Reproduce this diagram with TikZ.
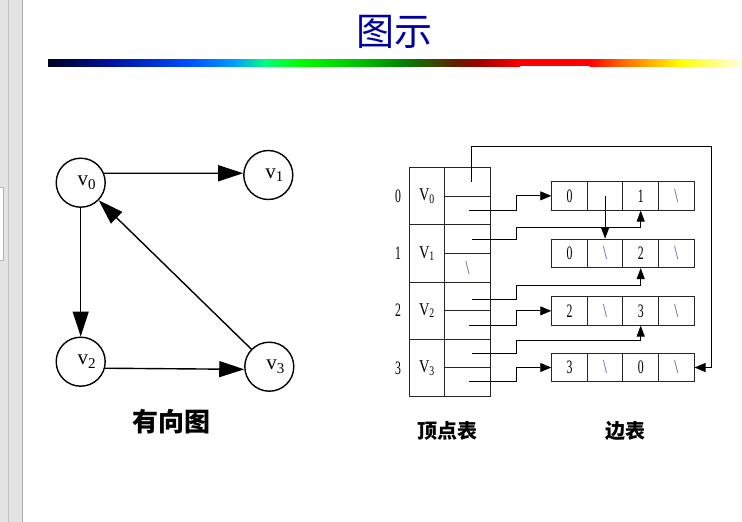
\documentclass[tikz,border=0pt]{standalone}
\usepackage{fontspec}
\setmainfont{Liberation Serif}
\newfontfamily\cjk{Noto Sans CJK SC}
\usetikzlibrary{arrows.meta,calc}
\definecolor{titleblue}{RGB}{0,0,160}
\definecolor{slashc}{RGB}{70,70,150}
\newcommand\fsz[1]{\fontsize{#1pt}{#1pt}\selectfont}
\newcommand\gv[1]{\hspace*{12pt}v\raisebox{-3.3pt}{\fsz{15}#1}}
\newcommand\dg[1]{\scalebox{0.62}[1]{\fsz{19}#1}}
\newcommand\vv[1]{\scalebox{0.8}[1]{\fsz{18}V}\raisebox{-2.7pt}{\scalebox{0.75}[1]{\fsz{13}#1}}}
\newcommand\bsl{\textcolor{slashc}{\scalebox{0.7}[1]{\fsz{20}\textbackslash}}}
\begin{document}
\begin{tikzpicture}[x=1pt,y=-1pt,
  gnode/.style={circle,draw,line width=1.4pt,minimum size=49pt,inner sep=0pt,font=\fsz{21}},
  garr/.style={line width=1.4pt,-{Triangle[length=25pt,width=16pt]}},
  vcell/.style={draw=black!85,line width=0.9pt,inner sep=0pt},
  ecell/.style={draw=black!85,line width=0.9pt,minimum width=35.6pt,minimum height=28.5pt,inner sep=0pt},
  tptr/.style={line width=0.9pt,-{Triangle[length=11pt,width=9pt]}},
  uptr/.style={line width=0.9pt,-{Triangle[length=11pt,width=8pt]}},
  captext/.style={font=\cjk\bfseries\fsz{20}}]
\useasboundingbox (0,0) rectangle (742,522);
% left strip
\fill[black!11] (0,0) rectangle (22,522);
\draw[black!25] (8,0) -- (8,522);
\draw[black!32,line width=1pt] (22,0) -- (22,522);
\filldraw[fill=white,draw=black!30] (-1,187) rectangle (3.3,260);
% title
\node[font=\cjk\fsz{38},text=titleblue] (title) at (394,32) {图示};
% gradient bar
\def\by{59}\def\bz{66}
\shade[left color={rgb,255:red,0;green,0;blue,32},right color={rgb,255:red,0;green,16;blue,160}] (48,\by) rectangle (110,\bz);
\shade[left color={rgb,255:red,0;green,16;blue,160},right color={rgb,255:red,0;green,80;blue,255}] (109.5,\by) rectangle (190,\bz);
\shade[left color={rgb,255:red,0;green,80;blue,255},right color={rgb,255:red,0;green,160;blue,255}] (189.5,\by) rectangle (235,\bz);
\shade[left color={rgb,255:red,0;green,160;blue,255},right color={rgb,255:red,0;green,255;blue,128}] (234.5,\by) rectangle (265,\bz);
\shade[left color={rgb,255:red,0;green,255;blue,128},right color={rgb,255:red,0;green,255;blue,0}] (264.5,\by) rectangle (300,\bz);
\shade[left color={rgb,255:red,0;green,255;blue,0},right color={rgb,255:red,0;green,192;blue,0}] (299.5,\by) rectangle (360,\bz);
\shade[left color={rgb,255:red,0;green,192;blue,0},right color={rgb,255:red,0;green,128;blue,0}] (359.5,\by) rectangle (405,\bz);
\shade[left color={rgb,255:red,0;green,128;blue,0},right color={rgb,255:red,96;green,32;blue,0}] (404.5,\by) rectangle (455,\bz);
\shade[left color={rgb,255:red,96;green,32;blue,0},right color={rgb,255:red,160;green,0;blue,0}] (454.5,\by) rectangle (480,\bz);
\shade[left color={rgb,255:red,160;green,0;blue,0},right color={rgb,255:red,255;green,0;blue,0}] (479.5,\by) rectangle (520,\bz);
\fill[red] (519.5,\by) rectangle (590,\bz);
\shade[left color={rgb,255:red,255;green,0;blue,0},right color={rgb,255:red,255;green,96;blue,0}] (589.5,\by) rectangle (620,\bz);
\shade[left color={rgb,255:red,255;green,96;blue,0},right color={rgb,255:red,255;green,255;blue,0}] (619.5,\by) rectangle (680,\bz);
\shade[left color={rgb,255:red,255;green,255;blue,0},right color={rgb,255:red,255;green,255;blue,232}] (679.5,\by) rectangle (742,\bz);
% directed graph
\node[gnode] (v0) at (80.7,182.7) {\gv0};
\node[gnode] (v1) at (268.3,175) {\gv1};
\node[gnode] (v2) at (80.7,361.7) {\gv2};
\node[gnode] (v3) at (269.3,366.7) {\gv3};
\draw[garr] (v0.22.6) -- (v1.176);
\draw[garr] (v0.south) -- (v2.north);
\draw[garr] (v2.-15.6) -- (v3.186);
\draw[garr] (v3) -- (v0);
\node[font=\cjk\bfseries\fsz{26}] (lg) at (171.7,421.7) {有向图};
% vertex table
\foreach \r/\yc in {0/196.3,1/253.5,2/310.7,3/367.9}{
  \node (i\r) at (398,\yc) {\dg{\r}};
  \node[vcell,minimum width=35.3pt,minimum height=57.2pt] (vd\r) at (426.65,\yc) {\vv{\r}};
  \node[vcell,minimum width=46.4pt,minimum height=28.6pt] (vp\r a) at (467.5,\yc-14.3) {};
}
\node[vcell,minimum width=46.4pt,minimum height=28.6pt] (vp0b) at (467.5,210.6) {};
\node[vcell,minimum width=46.4pt,minimum height=28.6pt] (vp1b) at (467.5,267.8) {\bsl};
\node[vcell,minimum width=46.4pt,minimum height=28.6pt] (vp2b) at (467.5,325) {};
\node[vcell,minimum width=46.4pt,minimum height=28.6pt] (vp3b) at (467.5,382.2) {};
% edge table
\node[ecell] (e00) at (569.5,195.85) {\dg0};
\node[ecell] (e01) at (605.1,195.85) {};
\node[ecell] (e02) at (640.7,195.85) {\dg1};
\node[ecell] (e03) at (676.3,195.85) {\bsl};
\node[ecell] (e10) at (569.5,253.35) {\dg0};
\node[ecell] (e11) at (605.1,253.35) {\bsl};
\node[ecell] (e12) at (640.7,253.35) {\dg2};
\node[ecell] (e13) at (676.3,253.35) {\bsl};
\node[ecell] (e20) at (569.5,310.85) {\dg2};
\node[ecell] (e21) at (605.1,310.85) {\bsl};
\node[ecell] (e22) at (640.7,310.85) {\dg3};
\node[ecell] (e23) at (676.3,310.85) {\bsl};
\node[ecell] (e30) at (569.5,367.5) {\dg3};
\node[ecell] (e31) at (605.1,367.5) {\bsl};
\node[ecell] (e32) at (640.7,367.5) {\dg0};
\node[ecell] (e33) at (676.3,367.5) {\bsl};
% pointers
\coordinate (s0a) at (471,181.7);
\coordinate (c0) at (711.7,146.7);
\draw[tptr] (s0a) |- (c0) |- (e33.east);
\coordinate (s0b) at (469.3,210);
\coordinate (k0) at (516,195.85);
\draw[tptr] (s0b) -| (k0) -- (e00.west);
\draw[uptr] (e01.center) -- (e11.north);
\coordinate (s1a) at (471.7,239);
\coordinate (k1) at (516,227.3);
\draw[uptr] (s1a) -| (k1) -| (e02.south);
\coordinate (s2a) at (471.7,299.3);
\coordinate (k2) at (516,285.7);
\draw[uptr] (s2a) -| (k2) -| (e12.south);
\coordinate (s2b) at (469.3,325);
\coordinate (k2b) at (516,310.85);
\draw[tptr] (s2b) -| (k2b) -- (e20.west);
\coordinate (s3a) at (471.7,353.3);
\coordinate (k3) at (516,340.7);
\draw[uptr] (s3a) -| (k3) -| (e22.south);
\coordinate (s3b) at (469.3,381.7);
\coordinate (k3b) at (516,367.5);
\draw[tptr] (s3b) -| (k3b) -- (e30.west);
% captions
\node[captext] (lv) at (447,431) {顶点表};
\node[captext] (le) at (625,431) {边表};
\end{tikzpicture}
\end{document}
